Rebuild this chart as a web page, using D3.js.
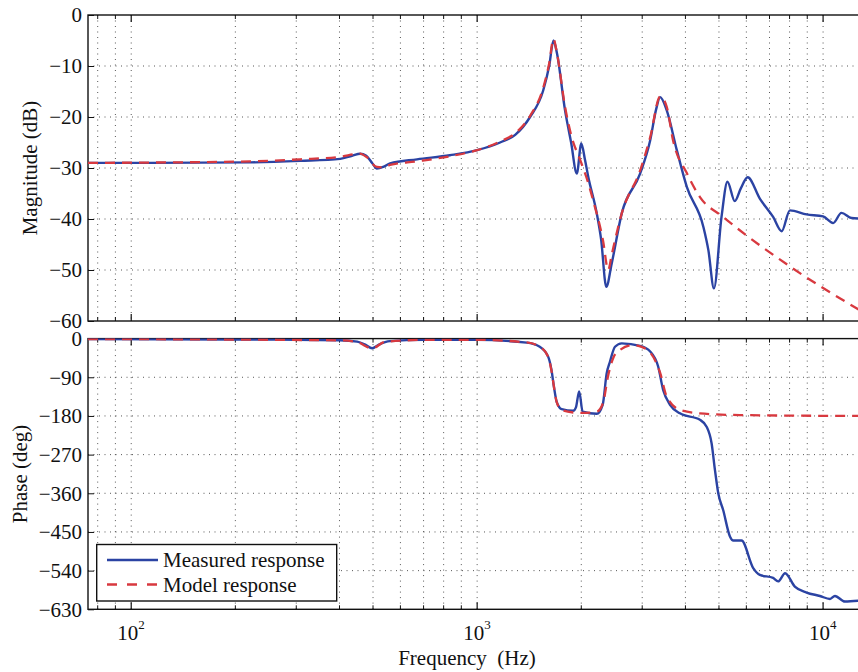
<!DOCTYPE html>
<html>
<head>
<meta charset="utf-8">
<script src="https://cdn.jsdelivr.net/npm/d3@7"></script>
<style>
  body { margin: 0; background: #fff; }
  text { font-family: "Liberation Serif", "Times New Roman", serif; }
</style>
</head>
<body>
<script>
const W = 858, H = 672;

// frequency axis (Hz)
const fMin = 75, fMax = 12700;
const freqTicks = [100, 1000, 10000];
const magTicks = [0, -10, -20, -30, -40, -50, -60];
const phaseTicks = [0, -90, -180, -270, -360, -450, -540, -630];

// measured magnitude (dB)
const measMagFreq = [75, 113, 221, 308, 402, 435, 459, 478, 497, 513, 535, 560, 670, 834, 1000, 1165, 1288, 1422, 1552, 1615, 1662, 1701, 1795, 1869, 1941, 2000, 2051, 2096, 2217, 2282, 2362, 2449, 2618, 2958, 3163, 3291, 3381, 3532, 3777, 4037, 4510, 4660, 4836, 5086, 5291, 5556, 5783, 6052, 6563, 7171, 7590, 8019, 8959, 10000, 10690, 11300, 12080, 12700];
const measMag = [-29.0, -29.0, -28.9, -28.6, -28.2, -27.6, -27.2, -27.6, -29.0, -30.1, -29.8, -29.1, -28.3, -27.5, -26.5, -25.0, -23.5, -20.0, -14.8, -10.0, -5.0, -7.5, -18.7, -25.0, -31.1, -25.2, -28.5, -31.8, -38.9, -44.0, -53.3, -48.7, -38.9, -31.1, -24.6, -18.5, -16.1, -18.7, -26.5, -33.7, -41.6, -46.1, -53.6, -39.6, -32.7, -36.5, -34.0, -31.8, -36.0, -39.6, -42.4, -38.3, -39.1, -39.5, -40.8, -38.8, -39.8, -39.9];

// model magnitude (dB)
const modelMagFreq = [75, 221, 308, 402, 459, 478, 513, 535, 560, 670, 834, 1000, 1165, 1288, 1422, 1552, 1615, 1662, 1701, 1795, 1869, 2000, 2096, 2163, 2311, 2393, 2449, 2618, 2958, 3163, 3381, 3532, 3684, 4037, 4406, 5142, 8180, 12700];
const modelMag = [-29.0, -28.7, -28.3, -27.8, -27.2, -27.8, -29.8, -29.9, -29.4, -28.7, -27.7, -26.5, -24.8, -23.2, -19.8, -14.3, -9.5, -4.7, -7.5, -18.0, -23.5, -29.0, -33.0, -36.3, -44.2, -50.0, -47.0, -38.9, -30.5, -24.0, -16.0, -18.0, -24.6, -31.0, -35.7, -39.6, -49.7, -57.8];

// measured phase (deg)
const measPhaseFreq = [75, 200, 400, 450, 475, 497, 520, 560, 700, 1000, 1390, 1517, 1604, 1640, 1667, 1698, 1755, 1895, 1930, 1972, 2018, 2217, 2306, 2368, 2420, 2503, 2618, 2958, 3163, 3336, 3450, 3610, 3857, 4406, 4605, 4762, 4869, 4977, 5142, 5383, 5500, 5809, 6281, 6563, 7171, 7414, 7766, 8285, 8959, 9793, 10470, 10820, 11560, 12700];
const measPhase = [-1, -2, -4, -7, -14, -22.6, -14, -6, -3, -3, -9.5, -19, -42, -73, -112, -147, -164, -168, -160, -123, -170, -175, -154, -81, -54, -19, -11, -17, -30, -65, -120, -154, -174, -189, -205, -244, -306, -360, -399, -461, -470, -470, -534, -550, -557, -565, -546, -577, -591, -599, -606, -599, -612, -610];

// model phase (deg)
const modelPhaseFreq = [75, 400, 450, 497, 540, 700, 1000, 1390, 1517, 1604, 1640, 1667, 1698, 1755, 1895, 2018, 2217, 2311, 2393, 2474, 2591, 2825, 3090, 3381, 3532, 3857, 4406, 5740, 12700];
const modelPhase = [-1, -4, -8, -23, -8, -3, -3, -9, -19, -42, -75, -112, -148, -166, -172, -173, -170, -150, -85, -45, -26, -15, -25, -80, -135, -166, -174, -178, -180];

const blue = "#2b43a3", red = "#d8393f";
const left = 88, right = 859;
const fs = 21;

const svg = d3.select("body").append("svg").attr("width", W).attr("height", H);

const x = d3.scaleLog().domain([fMin, fMax]).range([left, right]);

// all minor + major frequency positions
const minorFreq = [];
[10, 100, 1000, 10000].forEach(d => {
    for (let k = 2; k <= 9; k++) {
        const f = d * k;
        if (f >= fMin && f <= fMax) minorFreq.push(f);
    }
});
const gridFreq = minorFreq.concat(freqTicks).sort((a, b) => a - b);

function panel(top, bottom, domain, ticks, id) {
    const y = d3.scaleLinear().domain(domain).range([bottom, top]);
    const g = svg.append("g");

    svg.append("clipPath").attr("id", id)
        .append("rect").attr("x", left).attr("y", top).attr("width", right - left).attr("height", bottom - top);

    // dotted grid
    g.selectAll("line.vg").data(gridFreq).join("line")
        .attr("x1", d => x(d)).attr("x2", d => x(d))
        .attr("y1", top).attr("y2", bottom)
        .attr("stroke", "#444").attr("stroke-width", 0.9)
        .attr("stroke-dasharray", "1,4.5");
    g.selectAll("line.hg").data(ticks.slice(1, -1)).join("line")
        .attr("x1", left).attr("x2", right)
        .attr("y1", d => y(d)).attr("y2", d => y(d))
        .attr("stroke", "#444").attr("stroke-width", 0.9)
        .attr("stroke-dasharray", "1,4.5");

    // y axis, ticks inward
    const ya = g.append("g").attr("transform", `translate(${left},0)`)
        .call(d3.axisLeft(y).tickValues(ticks).tickSizeInner(-6).tickSizeOuter(0).tickPadding(6).tickFormat(d3.format("d")));
    ya.select(".domain").remove();
    ya.selectAll("text").attr("font-size", fs).attr("fill", "#111")
        .attr("font-family", "Liberation Serif, serif");
    ya.selectAll("line").attr("stroke", "#111");

    // x ticks at bottom and top, inward
    [[bottom, 1], [top, -1]].forEach(([yy, s]) => {
        g.selectAll(null).data(freqTicks).join("line")
            .attr("x1", d => x(d)).attr("x2", d => x(d))
            .attr("y1", yy).attr("y2", yy - s * 7)
            .attr("stroke", "#111").attr("stroke-width", 1.2);
        g.selectAll(null).data(minorFreq).join("line")
            .attr("x1", d => x(d)).attr("x2", d => x(d))
            .attr("y1", yy).attr("y2", yy - s * 4)
            .attr("stroke", "#111").attr("stroke-width", 1);
    });

    // frame
    g.append("rect").attr("x", left).attr("y", top)
        .attr("width", right - left).attr("height", bottom - top)
        .attr("fill", "none").attr("stroke", "#111").attr("stroke-width", 1.4);

    return {y, g, top, bottom, id};
}

function curve(p, fr, vs, color, dashed) {
    const line = d3.line()
        .x((d, i) => x(fr[i]))
        .y(d => p.y(d))
        .curve(d3.curveMonotoneX);
    p.g.append("path")
        .datum(vs)
        .attr("d", line)
        .attr("clip-path", `url(#${p.id})`)
        .attr("fill", "none")
        .attr("stroke", color)
        .attr("stroke-width", dashed ? 2.3 : 2.4)
        .attr("stroke-dasharray", dashed ? "10,7" : null)
        .attr("stroke-linejoin", "round");
}

const mag = panel(15, 321, [-60, 0], magTicks, "clipMag");
curve(mag, measMagFreq, measMag, blue, false);
curve(mag, modelMagFreq, modelMag, red, true);

const ph = panel(338.6, 609.3, [-630, 0], phaseTicks, "clipPh");
curve(ph, measPhaseFreq, measPhase, blue, false);
curve(ph, modelPhaseFreq, modelPhase, red, true);

// x tick labels 10^n
const xl = svg.append("g");
freqTicks.forEach(f => {
    const t = xl.append("text")
        .attr("x", x(f) - 14).attr("y", 640)
        .attr("font-size", fs).attr("fill", "#111");
    t.append("tspan").text("10");
    t.append("tspan").attr("font-size", 13).attr("dy", -11).text(Math.round(Math.log10(f)));
});

svg.append("text").attr("x", 467).attr("y", 665)
    .attr("text-anchor", "middle").attr("font-size", fs).attr("fill", "#111")
    .attr("xml:space", "preserve")
    .text("Frequency  (Hz)");

svg.append("text").attr("transform", "translate(37,168) rotate(-90)")
    .attr("text-anchor", "middle").attr("font-size", fs).attr("fill", "#111")
    .text("Magnitude (dB)");

svg.append("text").attr("transform", "translate(27,474) rotate(-90)")
    .attr("text-anchor", "middle").attr("font-size", fs).attr("fill", "#111")
    .text("Phase (deg)");

// legend
const lg = svg.append("g");
lg.append("rect").attr("x", 96.7).attr("y", 544.5).attr("width", 240).attr("height", 56.5)
    .attr("fill", "#fff").attr("stroke", "#111").attr("stroke-width", 1.4);
const legendItems = [["Measured response", blue, false], ["Model response", red, true]];
legendItems.forEach(([label, color, dashed], i) => {
    const yy = 560 + i * 24.5;
    lg.append("line").attr("x1", 107).attr("x2", 158).attr("y1", yy).attr("y2", yy)
        .attr("stroke", color).attr("stroke-width", 2.3)
        .attr("stroke-dasharray", dashed ? "10,10" : null);
    lg.append("text").attr("x", 163).attr("y", yy + 7)
        .attr("font-size", fs).attr("fill", "#111").text(label);
});
</script>
</body>
</html>
